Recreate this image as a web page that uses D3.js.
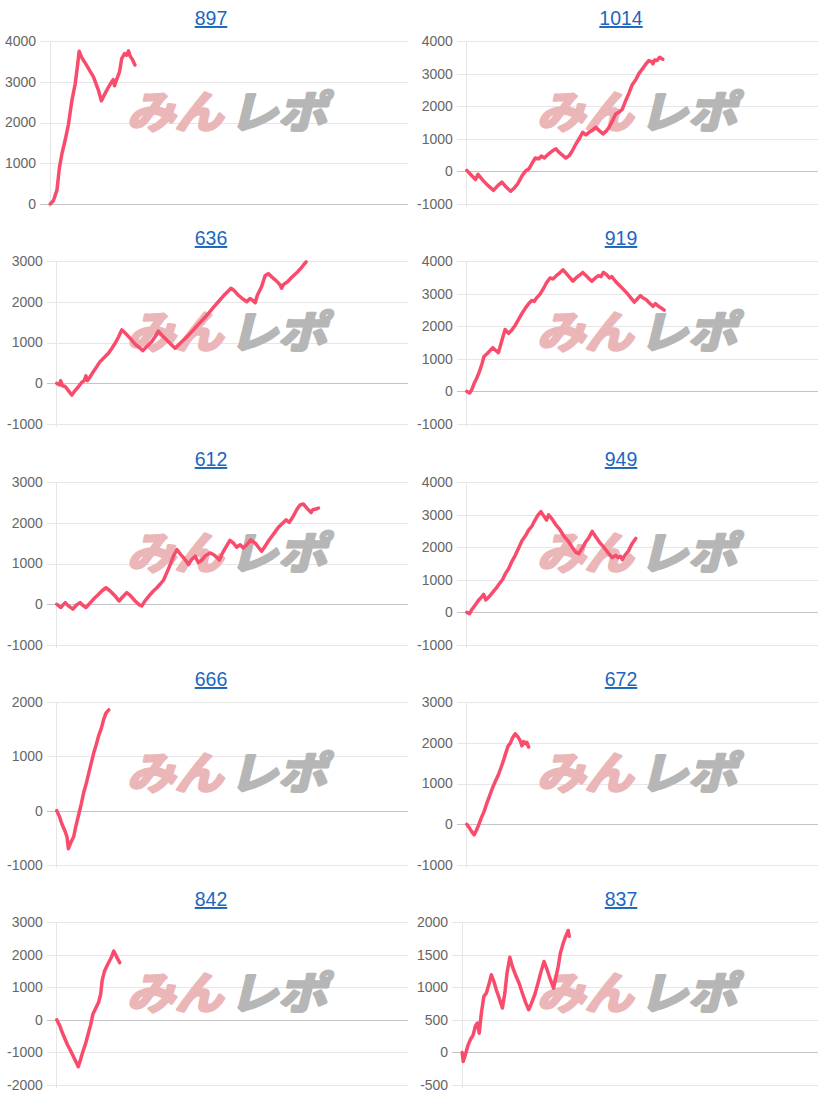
<!DOCTYPE html>
<html><head><meta charset="utf-8">
<script src="https://cdn.jsdelivr.net/npm/d3@7/dist/d3.min.js"></script>
<style>
body{margin:0;background:#fff;}
svg{display:block;}
</style>
</head><body>
<svg id="chart" width="820" height="1100"></svg>
<script>
// ---------- data ----------
const titles = ["897", "1014", "636", "919", "612", "949", "666", "672", "842", "837"];

const ticks897  = [0, 1000, 2000, 3000, 4000];
const ticks1014 = [-1000, 0, 1000, 2000, 3000, 4000];
const ticks636  = [-1000, 0, 1000, 2000, 3000];
const ticks919  = [-1000, 0, 1000, 2000, 3000, 4000];
const ticks612  = [-1000, 0, 1000, 2000, 3000];
const ticks949  = [-1000, 0, 1000, 2000, 3000, 4000];
const ticks666  = [-1000, 0, 1000, 2000];
const ticks672  = [-1000, 0, 1000, 2000, 3000];
const ticks842  = [-2000, -1000, 0, 1000, 2000, 3000];
const ticks837  = [-500, 0, 500, 1000, 1500, 2000];

// [progress (0-100 of the common x range), value]
const line897 = [[0,0],[0.9,80],[1.9,340],[2.6,900],[3.3,1240],[4.2,1570],[5.1,1950],[6.1,2550],[7.0,2950],[7.6,3360],[8.1,3750],[8.8,3600],[10.2,3400],[12.1,3120],[13.5,2790],[14.3,2530],[15.4,2720],[16.3,2870],[17.2,3000],[17.6,3050],[18.0,2900],[18.6,3060],[19.4,3250],[20.0,3570],[20.8,3690],[21.4,3650],[21.9,3760],[22.4,3620],[22.9,3560],[23.7,3410]];
const line1014 = [[0,30],[1.3,-120],[2.5,-250],[3.2,-90],[4.6,-275],[6.0,-430],[7.6,-580],[8.9,-430],[10.0,-330],[11.2,-480],[12.5,-610],[13.6,-500],[14.5,-380],[15.8,-120],[16.9,30],[17.7,80],[18.8,290],[19.5,410],[20.5,390],[21.2,470],[22.1,410],[23.3,540],[24.5,640],[25.4,690],[26.2,590],[27.3,490],[28.2,410],[29.2,490],[30.1,640],[31.1,850],[32.0,1000],[33.0,1200],[33.9,1120],[34.8,1200],[35.6,1250],[36.7,1350],[37.7,1250],[38.8,1150],[39.8,1250],[40.5,1350],[41.5,1560],[42.4,1760],[43.5,1830],[44.3,1910],[45.2,2160],[46.2,2410],[47.1,2660],[48.1,2810],[49.0,3000],[49.9,3130],[50.9,3280],[51.8,3400],[52.6,3370],[53.0,3300],[53.5,3420],[54.2,3400],[54.9,3500],[55.8,3440]];
const line636 = [[0,0],[0.8,-40],[1.1,60],[1.6,-60],[2.4,-80],[3.3,-180],[4.3,-290],[5.2,-180],[6.2,-80],[7.1,20],[7.8,65],[8.3,180],[8.7,65],[9.5,160],[10.4,285],[11.4,410],[12.3,530],[13.5,630],[14.7,735],[15.7,860],[16.6,980],[17.6,1140],[18.5,1310],[19.4,1240],[20.9,1100],[22.3,960],[23.7,860],[24.5,800],[25.6,900],[27.0,1020],[28.0,1140],[28.9,1280],[29.9,1180],[31.3,1060],[32.7,940],[33.7,860],[34.6,940],[36.1,1060],[37.5,1180],[38.9,1310],[40.3,1445],[41.7,1570],[43.2,1715],[44.6,1860],[46.0,2000],[47.4,2140],[48.9,2270],[49.6,2330],[50.3,2290],[51.7,2160],[53.1,2060],[54.1,2000],[55.0,2080],[55.7,2040],[56.5,1975],[57.1,2160],[58.3,2370],[59.3,2640],[60.2,2690],[61.2,2610],[62.6,2505],[63.6,2410],[64.0,2330],[64.5,2420],[65.7,2490],[66.9,2600],[68.3,2710],[69.7,2840],[70.4,2920],[71.0,2980]];
const line919 = [[0,0],[0.8,-50],[1.4,50],[2.1,250],[2.8,400],[3.6,610],[4.3,840],[4.9,1070],[5.9,1170],[6.6,1250],[7.4,1340],[8.1,1270],[9.0,1190],[10.0,1570],[10.9,1900],[11.9,1780],[12.8,1880],[13.8,2030],[14.7,2200],[15.7,2390],[16.6,2540],[17.6,2690],[18.5,2790],[19.2,2760],[19.9,2870],[20.9,2990],[21.8,3150],[22.8,3350],[23.7,3480],[24.5,3450],[25.5,3550],[26.4,3630],[27.4,3730],[28.3,3620],[29.3,3500],[30.2,3380],[31.1,3480],[32.3,3580],[33.0,3650],[34.0,3550],[34.9,3450],[35.6,3380],[36.6,3480],[37.5,3550],[38.2,3520],[38.9,3650],[39.9,3570],[40.6,3480],[41.3,3520],[42.3,3380],[43.5,3250],[44.6,3130],[45.8,2990],[46.7,2870],[47.7,2740],[48.4,2820],[49.4,2940],[50.1,2870],[51.1,2810],[52.0,2710],[53.0,2610],[53.7,2690],[54.6,2610],[55.6,2540],[56.2,2490]];
const line612 = [[0,0],[1.1,-80],[2.4,40],[3.3,-40],[4.6,-120],[5.5,-25],[6.6,40],[7.6,-40],[8.3,-80],[9.3,15],[10.4,120],[11.9,245],[12.8,325],[14.0,405],[15.2,325],[16.6,205],[17.7,80],[18.8,185],[19.9,285],[20.9,220],[22.3,80],[23.5,-15],[24.2,-40],[25.1,80],[26.4,220],[27.5,325],[28.5,405],[29.4,490],[30.4,595],[31.3,770],[32.3,975],[33.2,1180],[34.2,1340],[35.3,1220],[36.5,1100],[37.5,975],[38.4,1100],[39.4,1180],[40.3,1020],[41.3,1085],[42.2,1180],[43.6,1260],[44.6,1220],[45.7,1140],[46.3,1085],[47.2,1260],[48.4,1440],[49.3,1570],[50.3,1500],[51.2,1400],[52.2,1460],[53.1,1380],[54.1,1460],[55.2,1580],[56.5,1500],[57.4,1400],[58.3,1300],[59.3,1420],[60.2,1545],[61.7,1720],[63.1,1890],[64.3,1990],[65.3,2070],[66.2,2010],[67.2,2140],[68.3,2320],[69.3,2440],[70.2,2460],[71.2,2360],[72.4,2250],[72.9,2320],[73.5,2330],[74.5,2360]];
const line949 = [[0,0],[0.8,-40],[1.4,80],[2.4,230],[3.3,365],[4.3,485],[4.8,555],[5.4,385],[6.4,485],[7.3,605],[8.3,735],[9.2,870],[10.2,1010],[11.0,1190],[11.9,1340],[12.9,1575],[13.8,1750],[14.8,1980],[15.7,2200],[16.7,2350],[17.6,2525],[18.6,2655],[19.3,2810],[20.3,2990],[21.1,3090],[21.9,2960],[22.7,2830],[23.3,2990],[24.3,2860],[25.2,2710],[26.4,2555],[27.6,2350],[28.9,2180],[30.0,2000],[31.0,1850],[31.9,1800],[32.9,1980],[33.8,2150],[34.8,2300],[35.7,2485],[36.7,2320],[37.8,2150],[39.0,2000],[40.3,1820],[41.4,1680],[42.4,1750],[43.1,1680],[43.8,1720],[44.3,1615],[45.0,1750],[46.0,1880],[47.0,2100],[48.1,2270]];
const line666 = [[0,0],[0.7,-100],[1.4,-235],[2.2,-355],[2.9,-480],[3.3,-700],[4.1,-570],[4.8,-480],[5.4,-295],[6.2,-80],[7.0,135],[7.6,320],[8.4,505],[9.1,690],[9.8,875],[10.5,1060],[11.2,1210],[11.9,1375],[12.7,1520],[13.3,1670],[14.0,1795],[14.8,1855]];
const line672 = [[0,0],[0.8,-100],[1.4,-180],[2.1,-260],[2.7,-155],[3.3,-35],[4.1,150],[4.9,310],[5.7,515],[6.5,700],[7.3,885],[8.1,1050],[9.0,1215],[9.7,1380],[10.5,1580],[11.1,1745],[11.7,1910],[12.4,1990],[13.0,2115],[13.8,2220],[14.6,2140],[15.2,2050],[15.7,1925],[16.2,2030],[16.7,1975],[17.1,2010],[17.6,1895]];
const line842 = [[0,0],[0.8,-170],[1.5,-375],[2.3,-580],[3.1,-780],[4.1,-985],[5.0,-1190],[5.7,-1340],[6.1,-1440],[6.7,-1240],[7.4,-985],[8.2,-730],[8.9,-445],[9.6,-170],[10.3,180],[11.0,335],[11.9,540],[12.5,790],[12.9,1200],[13.6,1500],[14.5,1705],[15.5,1910],[16.2,2110],[16.9,1960],[17.9,1755]];
const line837 = [[0,0],[0.3,-140],[0.9,-35],[1.7,120],[2.3,195],[3.1,270],[3.7,400],[4.3,450],[4.8,295],[5.4,605],[6.1,860],[6.8,910],[7.5,1040],[8.2,1190],[8.9,1090],[9.6,960],[10.4,835],[11.3,680],[12.0,910],[12.6,1215],[13.4,1460],[14.1,1320],[15.1,1175],[16.0,1060],[16.9,910],[17.9,755],[18.7,655],[19.5,755],[20.4,885],[21.3,1060],[22.3,1265],[23.0,1395],[23.9,1265],[24.8,1115],[25.7,985],[26.2,1115],[27.0,1320],[27.6,1520],[28.4,1675],[29.1,1780],[29.8,1870],[30.1,1780]];

const xRange = [0, 100];

const panels = [
  {title: titles[0], ticks: ticks897,  data: line897},
  {title: titles[1], ticks: ticks1014, data: line1014},
  {title: titles[2], ticks: ticks636,  data: line636},
  {title: titles[3], ticks: ticks919,  data: line919},
  {title: titles[4], ticks: ticks612,  data: line612},
  {title: titles[5], ticks: ticks949,  data: line949},
  {title: titles[6], ticks: ticks666,  data: line666},
  {title: titles[7], ticks: ticks672,  data: line672},
  {title: titles[8], ticks: ticks842,  data: line842},
  {title: titles[9], ticks: ticks837,  data: line837}
];

// ---------- layout ----------
const svg = d3.select("#chart");
const FONT = "'Liberation Sans', Arial, Helvetica, sans-serif";
const CJK = "'Noto Sans CJK JP', sans-serif";
const colW = 410, rowH = 220.25;
const LINE_COLOR = "#f94c6c";
const fmt = v => String(v);   // plain hyphen-minus, as in the original

// measure tick label widths
const meas = svg.append("text").attr("font-family", FONT).attr("font-size", 14).attr("visibility", "hidden");
function textW(s) { meas.text(s); return meas.node().getComputedTextLength(); }

panels.forEach((p, i) => {
  const col = i % 2, row = Math.floor(i / 2);
  const px = col * colW, py = Math.round(row * rowH);
  const maxW = d3.max(p.ticks, t => textW(fmt(t)));
  const left = px + 5 + maxW + 14 + (p.ticks[0] < 0 ? 2 : 0);
  const right = px + 408;
  const top = py + 41, bottom = py + 204;

  const g = svg.append("g");
  const y = d3.scaleLinear().domain([p.ticks[0], p.ticks[p.ticks.length - 1]]).range([bottom, top]);
  const x = d3.scaleLinear().domain(xRange).range([left, right]);

  // title
  g.append("text")
    .attr("x", px + 211).attr("y", py + 25)
    .attr("text-anchor", "middle")
    .attr("font-family", FONT).attr("font-size", 19.5)
    .attr("fill", "#1b67bf")
    .style("text-decoration", "underline")
    .text(p.title);

  // y axis via d3.axisLeft
  const axis = d3.axisLeft(y).tickValues(p.ticks).tickFormat(fmt)
    .tickSize(-(right - left + 10)).tickPadding(4);
  const ag = g.append("g").attr("transform", `translate(${left - 10},0)`).call(axis);
  ag.select(".domain").remove();
  ag.selectAll(".tick line")
    .attr("x1", 0).attr("x2", right - left + 10)
    .attr("stroke", d => d === 0 ? "#c4c4c4" : "#e6e6e6")
    .attr("stroke-width", 1)
    .attr("shape-rendering", "crispEdges");
  ag.selectAll(".tick text")
    .attr("x", -4)
    .attr("fill", "#666")
    .attr("font-family", FONT).attr("font-size", 14);
  ag.selectAll(".tick").filter(d => d === 0).raise();

  // vertical axis line
  g.append("line")
    .attr("x1", left).attr("x2", left)
    .attr("y1", top).attr("y2", bottom + 3)
    .attr("stroke", "#e6e6e6").attr("shape-rendering", "crispEdges");

  // watermark
  const wm = g.append("g")
    .attr("transform", `translate(${px + 231},${py + 112}) skewX(-14)`);
  wm.append("text")
    .attr("x", -100).attr("y", 16)
    .attr("font-family", CJK).attr("font-weight", 700)
    .attr("font-size", 44)
    .attr("textLength", 96).attr("lengthAdjust", "spacingAndGlyphs")
    .attr("fill", "#ebb6b8").attr("stroke", "#ebb6b8").attr("stroke-width", 3)
    .attr("stroke-linejoin", "round")
    .text("みん");
  wm.append("text")
    .attr("x", 2).attr("y", 16)
    .attr("font-family", CJK).attr("font-weight", 700)
    .attr("font-size", 44)
    .attr("textLength", 98).attr("lengthAdjust", "spacingAndGlyphs")
    .attr("fill", "#b6b6b6").attr("stroke", "#b6b6b6").attr("stroke-width", 3)
    .attr("stroke-linejoin", "round")
    .text("レポ");

  // line
  const lineGen = d3.line().x(d => x(d[0])).y(d => y(d[1]));
  g.append("path")
    .datum(p.data)
    .attr("d", lineGen)
    .attr("fill", "none")
    .attr("stroke", LINE_COLOR)
    .attr("stroke-width", 3.5)
    .attr("stroke-linejoin", "round")
    .attr("stroke-linecap", "round");
});
meas.remove();
</script>
</body></html>
